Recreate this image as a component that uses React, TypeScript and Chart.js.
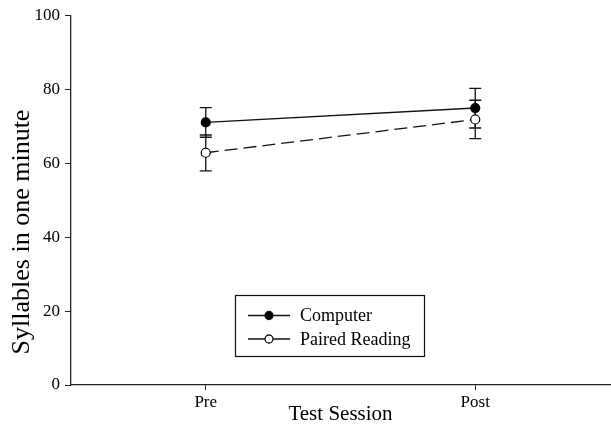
import React, { useEffect, useRef } from "react";
import { Chart, registerables } from "chart.js";

Chart.register(...registerables);

const categories = ["Pre", "Post"];
const computerMeans = [71.0, 74.9];
const computerLower = [67.0, 69.5];
const computerUpper = [75.0, 80.2];
const pairedMeans = [62.8, 71.8];
const pairedLower = [57.9, 66.6];
const pairedUpper = [67.6, 77.0];
const yTicks = [0, 20, 40, 60, 80, 100];
const yTitle = "Syllables in one minute";
const xTitle = "Test Session";

const SERIF = "'Liberation Serif', 'Times New Roman', serif";

const errorBars = {
  id: "errorBars",
  beforeDatasetsDraw(chart: any) {
    const ctx = chart.ctx;
    const xs = chart.scales.x;
    const ys = chart.scales.y;
    const sets = [
      { lo: computerLower, hi: computerUpper },
      { lo: pairedLower, hi: pairedUpper },
    ];
    ctx.save();
    ctx.strokeStyle = "#111";
    ctx.lineWidth = 1.3;
    sets.forEach((s) => {
      s.lo.forEach((lo, i) => {
        const x = xs.getPixelForValue(i);
        const yl = ys.getPixelForValue(lo);
        const yh = ys.getPixelForValue(s.hi[i]);
        ctx.beginPath();
        ctx.moveTo(x, yl);
        ctx.lineTo(x, yh);
        ctx.moveTo(x - 6, yl);
        ctx.lineTo(x + 6, yl);
        ctx.moveTo(x - 6, yh);
        ctx.lineTo(x + 6, yh);
        ctx.stroke();
      });
    });
    ctx.restore();
  },
};

const yTitlePlugin = {
  id: "yTitlePlugin",
  afterDraw(chart: any) {
    const ctx = chart.ctx;
    ctx.save();
    ctx.translate(22, 232);
    ctx.rotate(-Math.PI / 2);
    ctx.fillStyle = "#000";
    ctx.font = "26px " + SERIF;
    ctx.textAlign = "center";
    ctx.textBaseline = "middle";
    ctx.fillText(yTitle, 0, 0);
    ctx.restore();
  },
};

const boxLegend = {
  id: "boxLegend",
  afterDraw(chart: any) {
    const ctx = chart.ctx;
    const left = 235.5;
    const top = 295.5;
    const w = 189;
    const h = 61;
    ctx.save();
    ctx.strokeStyle = "#111";
    ctx.lineWidth = 1.2;
    ctx.strokeRect(left, top, w, h);
    chart.data.datasets.forEach((ds: any, i: number) => {
      const y = top + 20 + i * 23.5;
      ctx.beginPath();
      ctx.strokeStyle = "#111";
      ctx.lineWidth = 1.3;
      ctx.setLineDash([]);
      ctx.moveTo(248, y);
      ctx.lineTo(290, y);
      ctx.stroke();
      ctx.beginPath();
      ctx.arc(269, y, 4, 0, Math.PI * 2);
      ctx.fillStyle = ds.pointBackgroundColor;
      ctx.fill();
      ctx.stroke();
      ctx.fillStyle = "#000";
      ctx.font = "18px " + SERIF;
      ctx.textBaseline = "middle";
      ctx.textAlign = "left";
      ctx.fillText(ds.label, 300, y + 1);
    });
    ctx.restore();
  },
};

export default function App() {
  const ref = useRef<HTMLCanvasElement>(null);
  useEffect(() => {
    document.body.style.margin = "0";
    const chart = new Chart(ref.current!, {
      type: "line",
      data: {
        labels: categories,
        datasets: [
          {
            label: "Computer",
            data: computerMeans,
            borderColor: "#111",
            borderWidth: 1.3,
            pointRadius: 4.5,
            pointBackgroundColor: "#000",
            pointBorderColor: "#000",
            pointBorderWidth: 1.2,
          },
          {
            label: "Paired Reading",
            data: pairedMeans,
            borderColor: "#111",
            borderWidth: 1.3,
            borderDash: [13, 6],
            pointRadius: 4.5,
            pointBackgroundColor: "#fff",
            pointBorderColor: "#000",
            pointBorderWidth: 1.2,
          },
        ],
      },
      options: {
        animation: false,
        responsive: false,
        devicePixelRatio: 1,
        layout: { autoPadding: false, padding: { top: 15, right: 1, bottom: 0, left: 0 } },
        plugins: { legend: { display: false }, tooltip: { enabled: false } },
        scales: {
          x: {
            type: "category",
            offset: true,
            grid: { display: true, drawOnChartArea: false, tickLength: 5, color: "#222", offset: false },
            border: { display: true, color: "#222", width: 1.3 },
            ticks: { color: "#000", font: { family: SERIF, size: 17 }, padding: 2 },
            title: { display: true, text: xTitle, color: "#000", font: { family: SERIF, size: 21 }, padding: { top: 0, bottom: 4 } },
            afterFit(scale: any) {
              scale.height = 46;
            },
          },
          y: {
            min: 0,
            max: 100,
            afterBuildTicks(scale: any) { scale.ticks = yTicks.map((v) => ({ value: v })); },
            grid: { display: true, drawOnChartArea: false, tickLength: 6, color: "#222" },
            border: { display: true, color: "#222", width: 1.3 },
            ticks: { color: "#000", font: { family: SERIF, size: 17 }, padding: 5 },
            title: { display: false },
            afterFit(scale: any) { scale.width = 71; },
          },
        },
      },
      plugins: [errorBars, boxLegend, yTitlePlugin],
    });
    return () => chart.destroy();
  }, []);
  return (
    <div style={{ width: 611, height: 431 }}>
      <canvas ref={ref} width={611} height={431} style={{ display: "block" }} />
    </div>
  );
}
